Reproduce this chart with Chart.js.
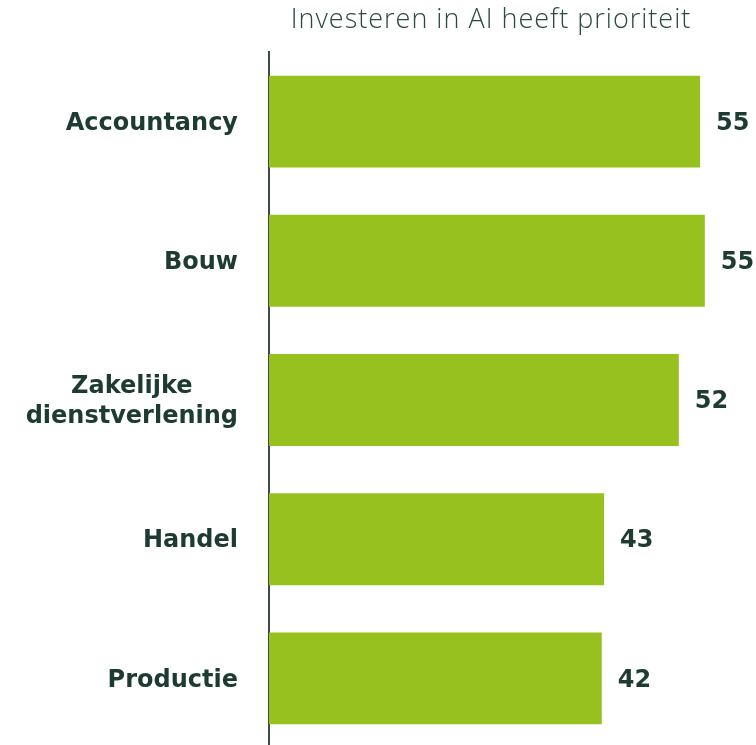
<!DOCTYPE html>
<html>
<head>
<meta charset="utf-8">
<script src="https://cdn.jsdelivr.net/npm/chart.js@4/dist/chart.umd.min.js"></script>
<style>
  html, body { margin: 0; padding: 0; background: #fff; overflow: hidden; }
  canvas { display: block; }
</style>
</head>
<body>
<canvas id="barChart" width="756" height="749"></canvas>
<script>
const titleText = "Investeren in AI heeft prioriteit";
const categories = ["Accountancy", "Bouw", ["Zakelijke", "dienstverlening"], "Handel", "Productie"];
const values = [54.8, 55.4, 52.1, 42.6, 42.3];
const valueLabels = ["55", "55", "52", "43", "42"];

const textColor = "#1d3b33";
const barColor = "#97c11f";
const labelFont = "bold 24px 'DejaVu Sans', sans-serif";

// category names left of the axis, value labels right of the bars, title on top
const labelsPlugin = {
    id: "labelsPlugin",
    afterDraw(chart) {
        const { ctx, scales: { y } } = chart;
        const meta = chart.getDatasetMeta(0);
        ctx.save();
        ctx.fillStyle = textColor;
        ctx.font = labelFont;
        ctx.textBaseline = "middle";

        categories.forEach((cat, i) => {
            const lines = Array.isArray(cat) ? cat : [cat];
            const yPos = y.getPixelForTick(i) + 2;
            const lineH = 30;
            const blockW = Math.max(...lines.map(l => ctx.measureText(l).width));
            const right = 238;
            lines.forEach((line, j) => {
                const ly = yPos + (j - (lines.length - 1) / 2) * lineH;
                if (lines.length > 1) {
                    ctx.textAlign = "center";
                    ctx.fillText(line, right - blockW / 2, ly);
                } else {
                    ctx.textAlign = "right";
                    ctx.fillText(line, right, ly);
                }
            });
        });

        ctx.textAlign = "left";
        meta.data.forEach((bar, i) => {
            ctx.fillText(valueLabels[i], bar.x + 16, bar.y + 2);
        });

        ctx.font = "300 27px 'Open Sans', 'Lato', sans-serif";
        ctx.letterSpacing = "1px";
        ctx.fillStyle = "#2b4a43";
        ctx.textAlign = "center";
        ctx.fillText(titleText, 491, 20);
        ctx.restore();
    }
};

new Chart(document.getElementById("barChart").getContext("2d"), {
    type: "bar",
    data: {
        labels: categories,
        datasets: [{
            data: values,
            backgroundColor: barColor,
            borderWidth: 0,
            categoryPercentage: 1,
            barPercentage: 0.66
        }]
    },
    options: {
        indexAxis: "y",
        responsive: false,
        animation: false,
        layout: { padding: { top: 52, right: 15, bottom: 1, left: 0 } },
        plugins: {
            legend: { display: false },
            tooltip: { enabled: false }
        },
        scales: {
            x: {
                display: false,
                min: 0,
                max: 60
            },
            y: {
                grid: { display: false },
                border: { display: true, color: "#3d4b48", width: 2 },
                ticks: { display: false },
                afterFit(scale) { scale.width = 269; }
            }
        }
    },
    plugins: [labelsPlugin]
});
</script>
</body>
</html>
